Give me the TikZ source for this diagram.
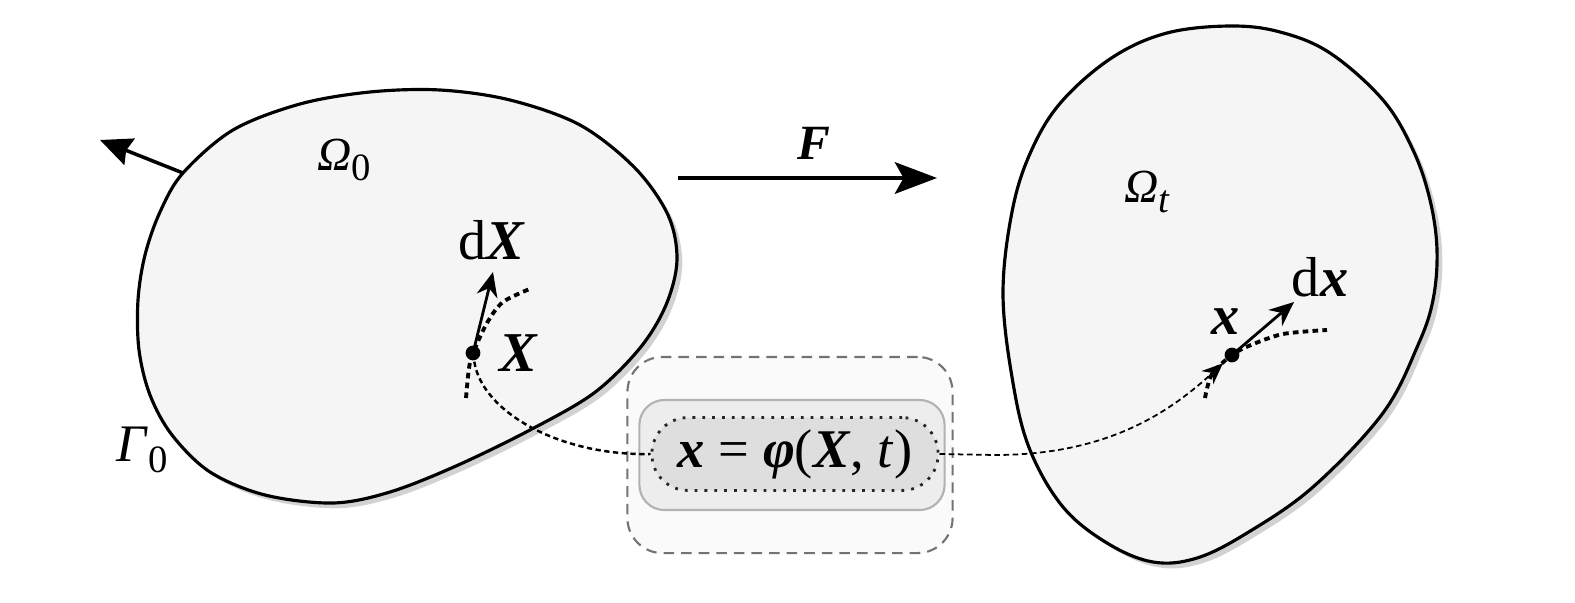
\documentclass[tikz,border=0pt]{standalone}
\usepackage{fontspec}
\setmainfont{Liberation Serif}
\usetikzlibrary{arrows.meta}
\usetikzlibrary{shadows}

\tikzset{
	region/.style={draw=black, line width=0.9pt, fill=black!4,
		drop shadow={shadow xshift=1.5pt, shadow yshift=-1.5pt, fill=black!35, opacity=0.5}},
	vec/.style={-{Stealth[length=7pt,width=6pt]}, line width=0.8pt},
	traj/.style={line width=1.1pt, dash pattern=on 1.6pt off 1.2pt},
	pt/.style={circle, fill=black, inner sep=0pt, minimum size=4.2pt},
	lbl/.style={inner sep=1pt}
}
\newcommand{\bi}[1]{\textbf{\textit{#1}}}
\newcommand{\domlbl}[3]{{\fontsize{#1}{16}\selectfont\textit{#2}\raisebox{-3pt}{\fontsize{11}{12}\selectfont #3}}}

\begin{document}
\begin{tikzpicture}[
		x=0.01cm,
		y=-0.01cm,
		thick
	]
	\useasboundingbox (0,0) rectangle (1575,603);
	% reference and current configuration
	\draw[region] plot[smooth cycle, tension=0.55] coordinates {(183,173) (233,130) (300,104) (370,92) (440,90) (510,100) (580,125) (635,168) (668,215) (677,260) (666,305) (640,348) (594,393) (530,430) (456,466) (390,492) (333,503) (265,495) (210,472) (172,435) (150,395) (139,350) (138,300) (145,255) (160,212)};
	\draw[region] plot[smooth cycle, tension=0.6] coordinates {(1003,293) (1013,207) (1033,147) (1063,100) (1113,57) (1167,33) (1230,26) (1280,32) (1330,53) (1383,100) (1413,150) (1430,200) (1437,250) (1433,300) (1418,345) (1383,413) (1313,487) (1247,533) (1197,558) (1153,562) (1107,543) (1063,507) (1030,450) (1013,383)};

	% mapping box
	\node[draw=black!55, dash pattern=on 3pt off 2pt, line width=0.6pt, fill=black!2, rounded corners=0.35cm, minimum width=3.25cm, minimum height=1.96cm] (outer) at (790,455) {};
	\node[draw=black!30, line width=0.6pt, fill=black!7, rounded corners=0.25cm, minimum width=3.05cm, minimum height=1.1cm] (mid) at (792,455) {};
	\node[draw=black!85, dotted, line width=0.8pt, fill=black!13, rounded corners=0.36cm, minimum width=2.86cm, minimum height=0.72cm] (eq) at (795,454)
		{\fontsize{15.5}{18}\selectfont\bi{x} = \bi{φ}(\bi{X}, \textit{t})};

	% material point and its image
	\node[pt] (Xp) at (473,353) {};
	\node[pt] (xp) at (1232,355) {};
	\draw[traj] plot[smooth] coordinates {(466,398) (469,368) (473,353) (487,323) (503,302) (532,288)};
	\draw[traj] plot[smooth] coordinates {(1205,398) (1212,374) (1232,355) (1251,345) (1283,334) (1327,330)};

	\node[lbl] (dX) at (492,240) {\fontsize{16}{18}\selectfont d\bi{X}};
	\node[lbl] (X) at (519,353) {\fontsize{16}{18}\selectfont\bi{X}};
	\node[lbl] (x) at (1226,322) {\fontsize{16}{18}\selectfont\bi{x}};
	\node[lbl] (dx) at (1320,277) {\fontsize{16}{18}\selectfont d\bi{x}};
	\coordinate (dXtip) at (493,272);
	\coordinate (dxtip) at (1294,302);
	\draw[vec] (Xp.center) -- (dXtip);
	\draw[vec] (xp.center) -- (dxtip);

	\coordinate (bend) at (995,455);
	\draw[line width=0.7pt, dash pattern=on 1.5pt off 1pt] (Xp) .. controls (482,412) and (560,456) .. (eq.west);
	\draw[line width=0.5pt, dash pattern=on 1.6pt off 1pt, -{Stealth[length=6pt,width=5pt]}, shorten >=1pt] (eq.east) -- (bend) .. controls (1110,455) and (1172,410) .. (xp);

	% deformation gradient
	\coordinate (Fs) at (678,178);
	\coordinate (Fe) at (937,178);
	\draw[line width=1.1pt, -{Stealth[length=12pt,width=9pt,inset=2.5pt]}] (Fs) -- (Fe);
	\node[lbl] (F) at (814,143) {\fontsize{14}{16}\selectfont\bi{F}};

	% outward normal
	\coordinate (nbase) at (183,173);
	\coordinate (ntip) at (100,140);
	\draw[line width=1pt, -{Stealth[length=9pt,width=8pt,inset=1pt]}] (nbase) -- (ntip);

	\node[lbl] (Om0) at (344,160) {\domlbl{13.5}{Ω}{0}};
	\node[lbl] (Ga0) at (142,450) {\domlbl{15}{Γ}{0}};
	\node[lbl] (Omt) at (1147,192) {\domlbl{13.5}{Ω}{\textit{t}}};
\end{tikzpicture}
\end{document}
